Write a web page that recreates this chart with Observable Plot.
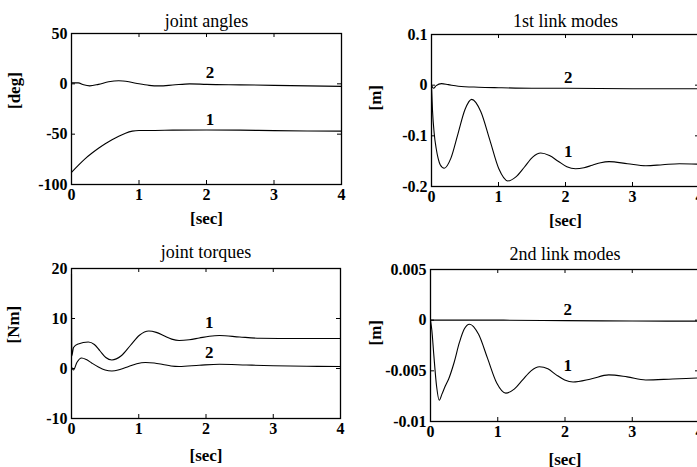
<!DOCTYPE html>
<html><head><meta charset="utf-8">
<script src="https://cdn.jsdelivr.net/npm/d3@7"></script>
<script src="https://cdn.jsdelivr.net/npm/@observablehq/plot@0.6"></script>
<style>
html,body{margin:0;padding:0;background:#fff;overflow:hidden;}
#wrap{position:relative;width:697px;height:467px;overflow:hidden;background:#fff;}
#wrap > svg{position:absolute;}
</style></head><body><div id="wrap"></div>
<script>
// ---- shared ----
const xTicks = [0, 1, 2, 3, 4];

// ---- joint angles [deg] ----
const angYTicks = [-100, -50, 0, 50];
const angT1 = [0, 0.1, 0.2, 0.3, 0.4, 0.5, 0.6, 0.7, 0.8, 0.9, 1.0, 1.2, 1.5, 2.0, 2.5, 3.0, 3.5, 4.0];
const angV1 = [-88, -81, -74.5, -69, -64, -59.5, -55.5, -52, -49, -47, -46.3, -46.3, -46, -45.8, -46, -46.5, -46.8, -47];
const angT2 = [0, 0.1, 0.18, 0.27, 0.4, 0.55, 0.7, 0.85, 1.0, 1.15, 1.3, 1.5, 1.75, 2.0, 2.5, 3.0, 3.5, 4.0];
const angV2 = [1, 1, -1, -2, -0.5, 2, 3, 2, 0, -1.5, -2, -1.2, 0, -0.5, -1, -1.5, -2, -2.5];
const angLabels = [{t: 2.05, v: -35, s: "1"}, {t: 2.05, v: 11, s: "2"}];

// ---- 1st link modes [m] ----
const l1YTicks = [-0.2, -0.1, 0, 0.1];
const l1T1 = [0, 0.015, 0.04, 0.07, 0.1, 0.13, 0.19, 0.29, 0.395, 0.5, 0.6, 0.735, 0.87, 1.005, 1.14, 1.26, 1.385, 1.51, 1.63, 1.76, 1.89, 2.02, 2.15, 2.275, 2.4, 2.525, 2.65, 2.925, 3.2, 3.45, 3.7, 4.0];
const l1V1 = [-0.002, -0.05, -0.095, -0.125, -0.145, -0.157, -0.164, -0.144, -0.096, -0.048, -0.028, -0.052, -0.108, -0.165, -0.189, -0.181, -0.162, -0.142, -0.134, -0.139, -0.150, -0.161, -0.165, -0.163, -0.158, -0.153, -0.151, -0.155, -0.159, -0.157, -0.155, -0.156];
const l1T2 = [0, 0.03, 0.07, 0.15, 0.25, 0.4, 0.7, 1.0, 1.5, 2.0, 3.0, 4.0];
const l1V2 = [0, -0.006, -0.001, 0.003, 0.001, -0.002, -0.004, -0.005, -0.006, -0.006, -0.007, -0.007];
const l1Labels = [{t: 2.04, v: -0.132, s: "1"}, {t: 2.04, v: 0.0146, s: "2"}];

// ---- joint torques [Nm] ----
const tqYTicks = [-10, 0, 10, 20];
const tqT1 = [0, 0.004, 0.03, 0.1, 0.25, 0.34, 0.425, 0.51, 0.6, 0.74, 0.875, 1.01, 1.15, 1.26, 1.375, 1.49, 1.6, 1.75, 1.9, 2.05, 2.2, 2.5, 2.8, 3.2, 3.6, 4.0];
const tqV1 = [19, 2.5, 4.2, 4.9, 5.3, 4.8, 3.5, 2.2, 1.7, 2.55, 4.6, 6.65, 7.5, 7.22, 6.55, 5.88, 5.6, 5.75, 6.1, 6.45, 6.6, 6.3, 6.05, 6.0, 6.0, 6.0];
const tqT2 = [0, 0.03, 0.08, 0.15, 0.22, 0.3, 0.4, 0.5, 0.6, 0.72, 0.85, 0.97, 1.1, 1.23, 1.36, 1.48, 1.6, 1.9, 2.2, 2.6, 3.0, 3.5, 4.0];
const tqV2 = [0.3, -0.3, 1.2, 2.1, 1.8, 1.1, 0.3, -0.3, -0.5, -0.2, 0.4, 0.95, 1.2, 1.1, 0.8, 0.5, 0.4, 0.65, 0.85, 0.7, 0.55, 0.45, 0.4];
const tqLabels = [{t: 2.05, v: 9.2, s: "1"}, {t: 2.05, v: 3.2, s: "2"}];

// ---- 2nd link modes [m] ----
const l2YTicks = [-0.01, -0.005, 0, 0.005];
const l2T1 = [0, 0.02, 0.05, 0.09, 0.13, 0.17, 0.22, 0.27, 0.35, 0.43, 0.5, 0.58, 0.715, 0.85, 0.985, 1.12, 1.245, 1.37, 1.495, 1.62, 1.745, 1.87, 1.995, 2.12, 2.385, 2.65, 2.925, 3.2, 3.6, 4.0];
const l2V1 = [0, -0.001, -0.0035, -0.0065, -0.0079, -0.0073, -0.0065, -0.0058, -0.0042, -0.0022, -0.0009, -0.0004, -0.0014, -0.0038, -0.0062, -0.0072, -0.0068, -0.0059, -0.005, -0.0046, -0.0048, -0.0054, -0.0059, -0.0061, -0.0058, -0.0054, -0.0056, -0.0059, -0.0058, -0.0057];
const l2T2 = [0, 1, 2, 3, 4];
const l2V2 = [0, 0, -0.00005, -0.00008, -0.0001];
const l2Labels = [{t: 2.04, v: -0.0045, s: "1"}, {t: 2.04, v: 0.00105, s: "2"}];

const FONT = "'Liberation Serif', 'Times New Roman', serif";
const INK = "#000";

function toRows(T, V) { return T.map((t, i) => ({t, v: V[i]})); }

function panel(o) {
  const fw = o.width - o.ml - o.mr, fh = o.height - o.mt - o.mb;
  const marks = [
    Plot.frame({stroke: INK, strokeWidth: 1.3}),
    Plot.tickX(xTicks, {x: d => d, insetTop: fh - 4, stroke: INK}),
    Plot.tickX(xTicks, {x: d => d, insetBottom: fh - 4, stroke: INK}),
    Plot.tickY(o.yTicks, {y: d => d, insetRight: fw - 4, stroke: INK}),
    Plot.tickY(o.yTicks, {y: d => d, insetLeft: fw - 4, stroke: INK}),
    Plot.axisX(xTicks, {tickSize: 0, tickPadding: 4, label: null, tickFormat: d => String(d), fontSize: 16, fontWeight: "bold"}),
    Plot.axisY(o.yTicks, {tickSize: 0, tickPadding: 4, label: null, tickFormat: d => String(d), fontSize: 16, fontWeight: "bold"}),
    ...o.curves.map(([T, V]) => Plot.line(toRows(T, V), {x: "t", y: "v", curve: "monotone-x", stroke: INK, strokeWidth: 1.1})),
    Plot.text(o.labels, {x: "t", y: "v", text: "s", fontSize: 17, fontWeight: "bold", fill: INK}),
    Plot.text([o.title], {text: d => d, frameAnchor: "top", dy: o.titleDy, fontSize: 18, fontWeight: "normal", fill: INK}),
    Plot.text(["[sec]"], {text: d => d, frameAnchor: "bottom", dy: o.xlabelDy, fontSize: 17, fontWeight: "bold", fill: INK}),
    Plot.text([o.ylabel], {text: d => d, frameAnchor: "left", dx: o.ylabelDx, rotate: -90, fontSize: 17, fontWeight: "bold", fill: INK})
  ];
  const svg = Plot.plot({
    width: o.width, height: o.height,
    marginLeft: o.ml, marginRight: o.mr, marginTop: o.mt, marginBottom: o.mb,
    x: {domain: [0, 4]},
    y: {domain: o.yDomain},
    style: {fontFamily: FONT, color: INK, background: "transparent", overflow: "visible"},
    marks
  });
  svg.style.left = o.left + "px";
  svg.style.top = o.top + "px";
  document.getElementById("wrap").appendChild(svg);
}

panel({left: 0, top: 0, width: 350, height: 235, ml: 71, mr: 9, mt: 33, mb: 51,
  yDomain: [-100, 50], yTicks: angYTicks, curves: [[angT1, angV1], [angT2, angV2]], labels: angLabels,
  title: "joint angles", titleDy: -19, ylabel: "[deg]", ylabelDx: -57, xlabelDy: 39});
panel({left: 350, top: 0, width: 360, height: 235, ml: 81, mr: 11, mt: 34, mb: 49,
  yDomain: [-0.2, 0.1], yTicks: l1YTicks, curves: [[l1T1, l1V1], [l1T2, l1V2]], labels: l1Labels,
  title: "1st link modes", titleDy: -20, ylabel: "[m]", ylabelDx: -56, xlabelDy: 39});
panel({left: 0, top: 235, width: 350, height: 232, ml: 71, mr: 10, mt: 33, mb: 49,
  yDomain: [-10, 20], yTicks: tqYTicks, curves: [[tqT1, tqV1], [tqT2, tqV2]], labels: tqLabels,
  title: "joint torques", titleDy: -23, ylabel: "[Nm]", ylabelDx: -58, xlabelDy: 42});
panel({left: 350, top: 235, width: 360, height: 232, ml: 80, mr: 11, mt: 34, mb: 46,
  yDomain: [-0.01, 0.005], yTicks: l2YTicks, curves: [[l2T1, l2V1], [l2T2, l2V2]], labels: l2Labels,
  title: "2nd link modes", titleDy: -22, ylabel: "[m]", ylabelDx: -55, xlabelDy: 43});
</script>
</body></html>
